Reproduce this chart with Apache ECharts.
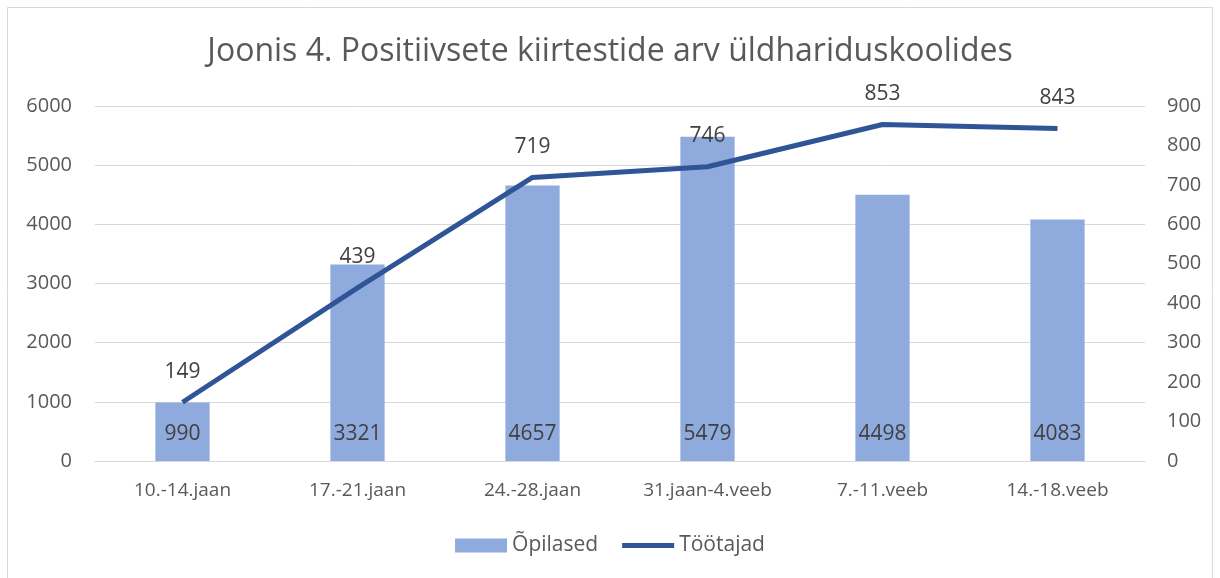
<!DOCTYPE html>
<html>
<head>
<meta charset="utf-8">
<script src="https://cdn.jsdelivr.net/npm/echarts@6/dist/echarts.min.js"></script>
<style>
  html, body { margin: 0; padding: 0; background: #fff; }
  #chart { width: 1220px; height: 578px; }
</style>
</head>
<body>
<div id="chart"></div>
<script>
const categories = ['10.-14.jaan', '17.-21.jaan', '24.-28.jaan', '31.jaan-4.veeb', '7.-11.veeb', '14.-18.veeb']
const opilased = [990, 3321, 4657, 5479, 4498, 4083]
const tootajad = [149, 439, 719, 746, 853, 843]

const fontFamily = '"Open Sans", "Liberation Sans", sans-serif'
const textColor = '#595959'

const chart = echarts.init(document.getElementById('chart'))
chart.setOption({
  textStyle: { fontFamily: fontFamily },
  graphic: [{
    type: 'rect',
    shape: { x: 7.5, y: 7.5, width: 1205, height: 600 },
    style: { fill: 'none', stroke: '#d9d9d9', lineWidth: 1 },
    silent: true
  }],
  title: {
    text: 'Joonis 4. Positiivsete kiirtestide arv üldhariduskoolides',
    left: 'center',
    top: 31,
    textStyle: { fontSize: 32, fontWeight: 'normal', color: textColor, fontFamily: fontFamily }
  },
  legend: {
    bottom: 17,
    left: 'center',
    itemWidth: 52,
    itemHeight: 14,
    itemGap: 24,
    textStyle: { fontSize: 21, color: textColor },
    data: [
      { name: 'Õpilased', icon: 'rect' },
      { name: 'Töötajad', icon: 'path://M0,0 L52,0 L52,5 L0,5 Z' }
    ]
  },
  grid: { left: 95, right: 75, top: 106, bottom: 117 },
  xAxis: {
    type: 'category',
    data: categories,
    axisLine: { lineStyle: { color: '#d9d9d9', width: 1 } },
    axisTick: { show: false },
    axisLabel: { color: textColor, fontSize: 19, margin: 20, interval: 0 }
  },
  yAxis: [{
    type: 'value',
    min: 0,
    max: 6000,
    interval: 1000,
    axisLine: { show: false },
    axisTick: { show: false },
    axisLabel: { color: textColor, fontSize: 20, margin: 23, formatter: v => String(v) },
    splitLine: { lineStyle: { color: '#d9d9d9', width: 1 } }
  }, {
    type: 'value',
    min: 0,
    max: 900,
    interval: 100,
    axisLine: { show: false },
    axisTick: { show: false },
    axisLabel: { color: textColor, fontSize: 20, margin: 22, formatter: v => String(v) },
    splitLine: { show: false }
  }],
  series: [{
    name: 'Õpilased',
    type: 'bar',
    data: opilased,
    barWidth: '31%',
    itemStyle: { color: '#8faadc' },
    label: {
      show: true,
      position: 'insideBottom',
      distance: 16,
      color: '#404040',
      fontSize: 21
    }
  }, {
    name: 'Töötajad',
    type: 'line',
    yAxisIndex: 1,
    data: tootajad,
    symbol: 'circle',
    symbolSize: 0.1,
    lineStyle: { color: '#2f5597', width: 5 },
    itemStyle: { color: '#2f5597' },
    label: {
      show: true,
      position: 'top',
      distance: 20,
      color: '#404040',
      fontSize: 21
    },
    z: 3
  }]
})
</script>
</body>
</html>
